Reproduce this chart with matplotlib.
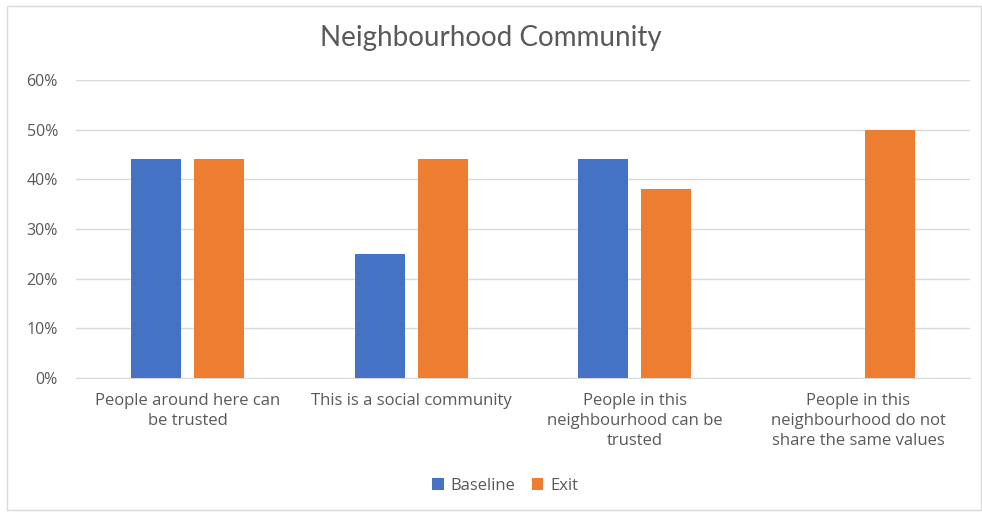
import matplotlib
matplotlib.use("Agg")
import matplotlib.pyplot as plt
import numpy as np
from matplotlib.patches import Rectangle
from matplotlib.ticker import PercentFormatter

categories = ["People around here can\nbe trusted",
              "This is a social community",
              "People in this\nneighbourhood can be\ntrusted",
              "People in this\nneighbourhood do not\nshare the same values"]
baseline = [44, 25, 44, np.nan]
exit_vals = [44, 44, 38, 50]
yticks = [0, 10, 20, 30, 40, 50, 60]

blue = "#4472C4"
orange = "#ED7D31"
gray_text = "#595959"

fig = plt.figure(figsize=(9.82, 5.13), dpi=100)
fig.patches.append(Rectangle((7/982, 3/513), 1 - 8/982, 1 - 9/513, transform=fig.transFigure,
                             fill=False, edgecolor="#D9D9D9", linewidth=1))
ax = fig.add_axes([76/982, 1 - 378/513, (970 - 76)/982, (378 - 80)/513])

x = np.arange(len(categories))
w = 0.224
off = 0.141
ax.bar(x - off, baseline, w, color=blue, label="Baseline", zorder=3)
ax.bar(x + off, exit_vals, w, color=orange, label="Exit", zorder=3)

ax.set_xlim(-0.5, len(categories) - 0.5)
ax.set_ylim(0, 60)
ax.set_yticks(yticks)
ax.yaxis.set_major_formatter(PercentFormatter(decimals=0))
ax.grid(axis="y", color="#D9D9D9", linewidth=1, zorder=0)
for s in ["top", "right", "left"]:
    ax.spines[s].set_visible(False)
ax.spines["bottom"].set_color("#D9D9D9")
ax.tick_params(axis="both", length=0, colors=gray_text)
ax.tick_params(axis="y", pad=13, labelsize=11.5)
ax.tick_params(axis="x", pad=11, labelsize=12)
ax.set_xticks(x)
ax.set_xticklabels(categories, fontfamily="Open Sans", linespacing=1.32)
for lbl in ax.get_yticklabels():
    lbl.set_fontfamily("Open Sans")

fig.text(0.5, 1 - 38/513, "Neighbourhood Community", ha="center", va="center",
         fontsize=20, color=gray_text, fontfamily="Lato")

leg = fig.legend(loc="center", bbox_to_anchor=(505/982, 1 - 486/513), ncol=2, frameon=False,
                 prop={"family": "Open Sans", "size": 12}, handlelength=0.7, handleheight=0.7,
                 handletextpad=0.4, columnspacing=1.0)
for t in leg.get_texts():
    t.set_color(gray_text)

fig.savefig("out.png", dpi=100)
